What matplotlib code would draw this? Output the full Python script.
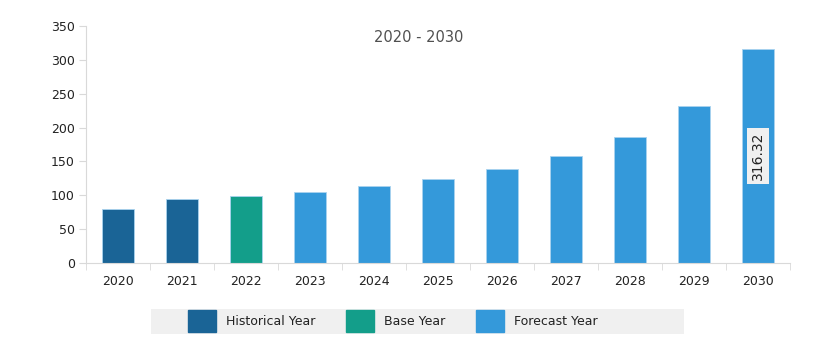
import matplotlib.pyplot as plt
import matplotlib.patches as mpatches
from matplotlib.ticker import FixedLocator

years = ['2020', '2021', '2022', '2023', '2024', '2025', '2026', '2027', '2028', '2029', '2030']
values = [80.0, 95.0, 98.5, 105.0, 113.7, 124.5, 138.3, 157.5, 185.6, 231.9, 316.32]
kinds = ['hist', 'hist', 'base', 'fc', 'fc', 'fc', 'fc', 'fc', 'fc', 'fc', 'fc']

colors = {'hist': '#1a6496', 'base': '#139e8a', 'fc': '#3499da'}
labels = {'hist': 'Historical Year', 'base': 'Base Year', 'fc': 'Forecast Year'}

plt.rcParams['font.family'] = ['DejaVu Sans']
fig = plt.figure(figsize=(8.38, 3.58), dpi=100)
ax = fig.add_axes([0.1026, 0.2654, 0.8404, 0.6620])

x = list(range(len(years)))
ax.bar(x, values, width=0.5, color=[colors[k] for k in kinds],
       edgecolor='#a9d3ef', linewidth=0.6)

ax.set_xlim(-0.5, len(years) - 0.5)
ax.set_ylim(0, 350)
ax.set_yticks(range(0, 351, 50))
ax.set_xticks(x)
ax.set_xticklabels(years)
ax.xaxis.set_minor_locator(FixedLocator([i - 0.5 for i in range(len(years) + 1)]))
ax.tick_params(axis='x', which='major', length=0, pad=9, labelsize=9, labelcolor='#222222')
ax.tick_params(axis='x', which='minor', length=5, color='#d9d9d9')
ax.tick_params(axis='y', length=5, color='#d9d9d9', labelsize=9, pad=3, labelcolor='#222222')
for s in ['top', 'right']:
    ax.spines[s].set_visible(False)
for s in ['left', 'bottom']:
    ax.spines[s].set_color('#d9d9d9')

fig.text(0.5, 1 - 38 / 358, '2020 - 2030', ha='center', va='center',
         fontsize=10.5, color='#505050')

# value label on last bar
ax.text(x[-1], values[-1] / 2, f'{values[-1]:.2f}', rotation=90, ha='center', va='center',
        fontsize=10, color='#222222',
        bbox=dict(boxstyle='square,pad=0.3', fc='#f0f0f0', ec='none'))

# legend
fig.patches.append(mpatches.Rectangle((151 / 838, 1 - 334 / 358), 533 / 838, 25 / 358,
                                      transform=fig.transFigure, fc='#f0f0f0', ec='none'))
handles = [mpatches.Patch(color=colors[k], label=labels[k]) for k in ['hist', 'base', 'fc']]
fig.legend(handles=handles, loc='center left', bbox_to_anchor=(188 / 838, 1 - 321 / 358),
           ncol=3, frameon=False, fontsize=9, handlelength=2.2, handleheight=2.25,
           handletextpad=0.8, columnspacing=2.5, borderpad=0, borderaxespad=0,
           labelcolor='#222222')

fig.savefig('out.png', dpi=100)
